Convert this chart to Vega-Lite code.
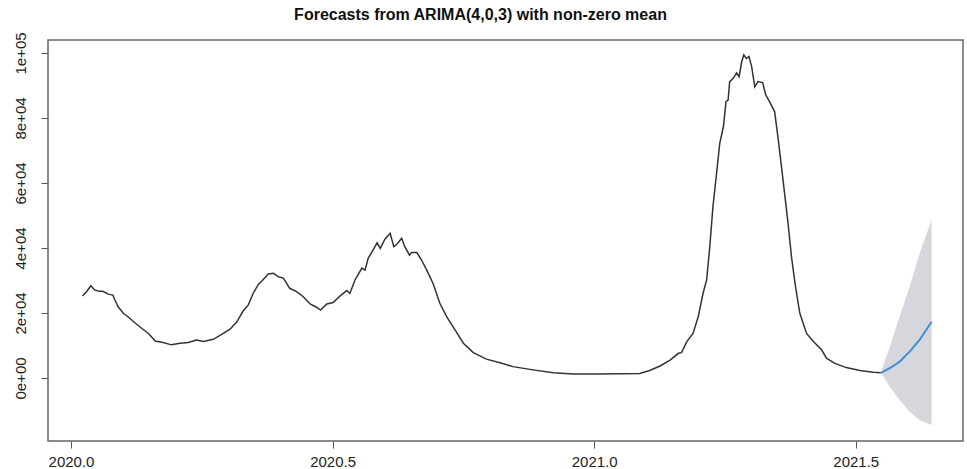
{
  "$schema": "https://vega.github.io/schema/vega-lite/v6.json",
  "width": 915,
  "height": 401,
  "autosize": "none",
  "padding": {"left": 48, "top": 40, "right": 4, "bottom": 28},
  "background": "white",
  "config": {
    "view": {"stroke": "#666", "strokeWidth": 1.5},
    "font": "Liberation Sans"
  },
  "title": {
    "text": "Forecasts from ARIMA(4,0,3) with non-zero mean",
    "font": "Liberation Sans",
    "fontSize": 16,
    "fontWeight": "bold",
    "color": "#111",
    "anchor": "middle",
    "dx": -25,
    "offset": 9
  },
  "datasets": {
    "obs": [
      {"t": 2020.022, "v": 25200}, {"t": 2020.030, "v": 26600}, {"t": 2020.038, "v": 28400}, {"t": 2020.045, "v": 27100},
      {"t": 2020.052, "v": 26800}, {"t": 2020.062, "v": 26600}, {"t": 2020.071, "v": 25800}, {"t": 2020.080, "v": 25500},
      {"t": 2020.084, "v": 24000}, {"t": 2020.090, "v": 21900}, {"t": 2020.100, "v": 19900}, {"t": 2020.110, "v": 18700},
      {"t": 2020.122, "v": 17000}, {"t": 2020.135, "v": 15300}, {"t": 2020.148, "v": 13700}, {"t": 2020.161, "v": 11400},
      {"t": 2020.176, "v": 10900}, {"t": 2020.192, "v": 10200}, {"t": 2020.208, "v": 10700}, {"t": 2020.224, "v": 10900},
      {"t": 2020.240, "v": 11700}, {"t": 2020.253, "v": 11200}, {"t": 2020.272, "v": 11900}, {"t": 2020.288, "v": 13400},
      {"t": 2020.304, "v": 15000}, {"t": 2020.317, "v": 17300}, {"t": 2020.329, "v": 20600}, {"t": 2020.339, "v": 22500},
      {"t": 2020.348, "v": 26000}, {"t": 2020.358, "v": 28800}, {"t": 2020.367, "v": 30200}, {"t": 2020.377, "v": 32000},
      {"t": 2020.387, "v": 32200}, {"t": 2020.396, "v": 31200}, {"t": 2020.406, "v": 30700}, {"t": 2020.418, "v": 27600},
      {"t": 2020.431, "v": 26600}, {"t": 2020.444, "v": 25000}, {"t": 2020.457, "v": 22800}, {"t": 2020.470, "v": 21700},
      {"t": 2020.477, "v": 20900}, {"t": 2020.489, "v": 22800}, {"t": 2020.501, "v": 23200}, {"t": 2020.514, "v": 25200},
      {"t": 2020.527, "v": 26900}, {"t": 2020.533, "v": 26000}, {"t": 2020.543, "v": 30200}, {"t": 2020.556, "v": 33800},
      {"t": 2020.562, "v": 33200}, {"t": 2020.568, "v": 36800}, {"t": 2020.578, "v": 39600}, {"t": 2020.585, "v": 41600},
      {"t": 2020.591, "v": 39900}, {"t": 2020.600, "v": 42700}, {"t": 2020.610, "v": 44500}, {"t": 2020.617, "v": 40400},
      {"t": 2020.624, "v": 41400}, {"t": 2020.632, "v": 43000}, {"t": 2020.638, "v": 40400}, {"t": 2020.647, "v": 37800},
      {"t": 2020.651, "v": 38600}, {"t": 2020.661, "v": 38600}, {"t": 2020.670, "v": 36300}, {"t": 2020.680, "v": 33200},
      {"t": 2020.692, "v": 29100}, {"t": 2020.705, "v": 23000}, {"t": 2020.718, "v": 18900}, {"t": 2020.734, "v": 14800},
      {"t": 2020.750, "v": 10700}, {"t": 2020.769, "v": 7800}, {"t": 2020.794, "v": 5800}, {"t": 2020.820, "v": 4700},
      {"t": 2020.845, "v": 3500}, {"t": 2020.883, "v": 2500}, {"t": 2020.922, "v": 1600}, {"t": 2020.960, "v": 1200},
      {"t": 2021.011, "v": 1200}, {"t": 2021.049, "v": 1300}, {"t": 2021.087, "v": 1400}, {"t": 2021.106, "v": 2300},
      {"t": 2021.126, "v": 3700}, {"t": 2021.145, "v": 5500}, {"t": 2021.161, "v": 7600}, {"t": 2021.167, "v": 7800},
      {"t": 2021.177, "v": 11200}, {"t": 2021.189, "v": 13700}, {"t": 2021.199, "v": 18900}, {"t": 2021.208, "v": 26000},
      {"t": 2021.215, "v": 30200}, {"t": 2021.221, "v": 40400}, {"t": 2021.227, "v": 52700}, {"t": 2021.234, "v": 63000},
      {"t": 2021.240, "v": 72200}, {"t": 2021.247, "v": 77300}, {"t": 2021.252, "v": 85000}, {"t": 2021.256, "v": 85500},
      {"t": 2021.259, "v": 91200}, {"t": 2021.266, "v": 92200}, {"t": 2021.272, "v": 93900}, {"t": 2021.277, "v": 92700},
      {"t": 2021.282, "v": 97300}, {"t": 2021.286, "v": 99400}, {"t": 2021.291, "v": 98300}, {"t": 2021.296, "v": 98900},
      {"t": 2021.301, "v": 95800}, {"t": 2021.307, "v": 89600}, {"t": 2021.313, "v": 91200}, {"t": 2021.322, "v": 90900},
      {"t": 2021.328, "v": 87100}, {"t": 2021.337, "v": 84500}, {"t": 2021.345, "v": 81900}, {"t": 2021.352, "v": 73200},
      {"t": 2021.358, "v": 65000}, {"t": 2021.364, "v": 56800}, {"t": 2021.371, "v": 47000}, {"t": 2021.377, "v": 37500},
      {"t": 2021.384, "v": 29000}, {"t": 2021.393, "v": 20000}, {"t": 2021.406, "v": 13700}, {"t": 2021.419, "v": 11200},
      {"t": 2021.435, "v": 8600}, {"t": 2021.444, "v": 6100}, {"t": 2021.460, "v": 4500}, {"t": 2021.482, "v": 3200},
      {"t": 2021.508, "v": 2300}, {"t": 2021.533, "v": 1800}, {"t": 2021.548, "v": 1600}
    ],
    "fc": [
      {"t": 2021.548, "mean": 1600, "lo": 1600, "hi": 1600},
      {"t": 2021.565, "mean": 3000, "lo": -2700, "hi": 9600},
      {"t": 2021.584, "mean": 5000, "lo": -6800, "hi": 18900},
      {"t": 2021.603, "mean": 8100, "lo": -10400, "hi": 28100},
      {"t": 2021.622, "mean": 11700, "lo": -12900, "hi": 38400},
      {"t": 2021.645, "mean": 17300, "lo": -14500, "hi": 48600}
    ]
  },
  "layer": [
    {
      "data": {"name": "fc"},
      "mark": {"type": "area", "color": "#d6d6dd", "opacity": 1},
      "encoding": {
        "x": {"field": "t", "type": "quantitative", "scale": {"domain": [2019.956, 2021.705], "nice": false, "zero": false},
          "axis": {"values": [2020, 2020.5, 2021, 2021.5], "format": ".1f", "title": null, "grid": false, "domain": false,
            "tickSize": 7, "tickColor": "#555", "tickWidth": 1, "labelFont": "Liberation Sans", "labelFontSize": 15,
            "labelColor": "#222", "labelPadding": 6, "labelFlush": false}},
        "y": {"field": "lo", "type": "quantitative", "scale": {"domain": [-19385, 104000], "nice": false, "zero": false},
          "axis": {"values": [0, 20000, 40000, 60000, 80000, 100000], "title": null, "grid": false, "domain": false,
            "tickSize": 7, "tickColor": "#555", "tickWidth": 1, "labelFont": "Liberation Sans", "labelFontSize": 15,
            "labelColor": "#222", "labelAngle": -90, "labelAlign": "center", "labelBaseline": "bottom", "labelPadding": 13,
            "labelFlush": false,
            "labelExpr": "datum.value == 0 ? '0e+00' : datum.value == 20000 ? '2e+04' : datum.value == 40000 ? '4e+04' : datum.value == 60000 ? '6e+04' : datum.value == 80000 ? '8e+04' : '1e+05'"}},
        "y2": {"field": "hi"}
      }
    },
    {
      "data": {"name": "obs"},
      "mark": {"type": "line", "color": "#333", "strokeWidth": 1.5},
      "encoding": {
        "x": {"field": "t", "type": "quantitative", "scale": {"domain": [2019.956, 2021.705], "nice": false, "zero": false}},
        "y": {"field": "v", "type": "quantitative", "scale": {"domain": [-19385, 104000], "nice": false, "zero": false}}
      }
    },
    {
      "data": {"name": "fc"},
      "mark": {"type": "line", "color": "#3a8ed8", "strokeWidth": 2},
      "encoding": {
        "x": {"field": "t", "type": "quantitative", "scale": {"domain": [2019.956, 2021.705], "nice": false, "zero": false}},
        "y": {"field": "mean", "type": "quantitative", "scale": {"domain": [-19385, 104000], "nice": false, "zero": false}}
      }
    }
  ]
}
